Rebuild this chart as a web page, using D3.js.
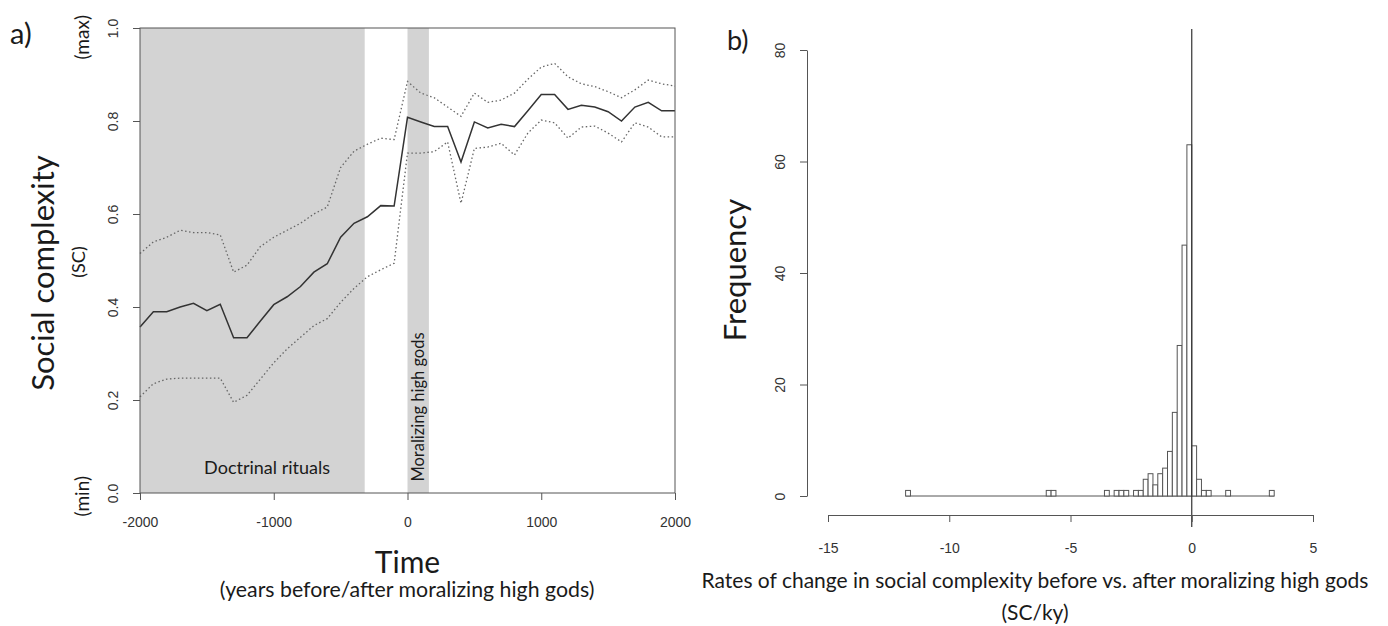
<!DOCTYPE html>
<html>
<head>
<meta charset="utf-8">
<script src="https://cdn.jsdelivr.net/npm/d3@7"></script>
<style>
	body { margin: 0; background: #fff; }
	.tick line, .domain { stroke: #555; }
	.tick text { font-family: 'Liberation Sans', Arial, sans-serif; font-size: 14px; fill: #333; }
	.lbl { font-family: Lato, 'Open Sans', sans-serif; fill: #1a1a1a; }
</style>
</head>
<body>
<script>
// ---- data ----
const years = [-2000, -1900, -1800, -1700, -1600, -1500, -1400, -1300, -1200, -1100,
	-1000, -900, -800, -700, -600, -500, -400, -300, -200, -100,
	0, 100, 200, 300, 400, 500, 600, 700, 800, 900,
	1000, 1100, 1200, 1300, 1400, 1500, 1600, 1700, 1800, 1900, 2000]

const meanSC = [0.357, 0.39, 0.39, 0.40, 0.408, 0.392, 0.406, 0.334, 0.334, 0.37,
	0.405, 0.422, 0.444, 0.475, 0.493, 0.55, 0.58, 0.594, 0.618, 0.617,
	0.808, 0.798, 0.788, 0.788, 0.712, 0.798, 0.785, 0.793, 0.788, 0.822,
	0.857, 0.857, 0.825, 0.834, 0.83, 0.82, 0.80, 0.83, 0.84, 0.822, 0.822]

const upperSC = [0.515, 0.54, 0.55, 0.565, 0.56, 0.56, 0.555, 0.475, 0.49, 0.53,
	0.55, 0.565, 0.58, 0.60, 0.615, 0.70, 0.735, 0.75, 0.763, 0.76,
	0.885, 0.86, 0.85, 0.83, 0.81, 0.86, 0.84, 0.845, 0.86, 0.89,
	0.916, 0.924, 0.895, 0.88, 0.874, 0.863, 0.85, 0.867, 0.888, 0.88, 0.875]

const lowerSC = [0.207, 0.235, 0.245, 0.247, 0.247, 0.247, 0.247, 0.195, 0.21, 0.245,
	0.28, 0.31, 0.335, 0.36, 0.375, 0.41, 0.44, 0.465, 0.48, 0.494,
	0.731, 0.731, 0.734, 0.755, 0.623, 0.741, 0.744, 0.752, 0.727, 0.774,
	0.802, 0.796, 0.763, 0.787, 0.789, 0.774, 0.755, 0.796, 0.787, 0.766, 0.766]

const doctrinalSpan = [-2000, -320]
const moralizingSpan = [0, 160]
const xTicksA = [-2000, -1000, 0, 1000, 2000]
const yTicksA = [0, 0.2, 0.4, 0.6, 0.8, 1.0]

// histogram: left edge of each non-empty bin and its count (bin width 0.2)
const binWidth = 0.2
const histRange = [-11.8, 3.4]
const binStarts = [-11.8, -6.0, -5.8, -3.6, -3.2, -3.0, -2.8, -2.4, -2.2, -2.0,
	-1.8, -1.6, -1.4, -1.2, -1.0, -0.8, -0.6, -0.4, -0.2, 0,
	0.2, 0.4, 0.6, 1.4, 3.2]
const binCounts = [1, 1, 1, 1, 1, 1, 1, 1, 1, 3,
	4, 2, 4, 5, 8, 15, 27, 45, 63, 9,
	3, 1, 1, 1, 1]
const xTicksB = [-15, -10, -5, 0, 5]
const yTicksB = [0, 20, 40, 60, 80]

// plain hyphen minus, no thousands separator (R style)
const plain = d => String(d)

// ---- layout ----
const svg = d3.select('body').append('svg')
	.attr('width', 1388)
	.attr('height', 626)

// ================= panel a =================
const xA = d3.scaleLinear().domain([-2000, 2000]).range([140, 675])
const yA = d3.scaleLinear().domain([0, 1]).range([493, 28])

const a = svg.append('g')

a.selectAll('rect.band')
	.data([doctrinalSpan, moralizingSpan])
	.join('rect')
	.attr('class', 'band')
	.attr('x', d => xA(d[0]))
	.attr('width', d => xA(d[1]) - xA(d[0]))
	.attr('y', yA(1))
	.attr('height', yA(0) - yA(1))
	.attr('fill', '#d3d3d3')

a.append('text')
	.attr('class', 'lbl')
	.attr('x', xA(-1050))
	.attr('y', yA(0.04))
	.attr('text-anchor', 'middle')
	.attr('font-size', 18)
	.text('Doctrinal rituals')

a.append('text')
	.attr('class', 'lbl')
	.attr('transform', `translate(${xA(125)},${yA(0.185)}) rotate(-90)`)
	.attr('text-anchor', 'middle')
	.attr('font-size', 16.5)
	.text('Moralizing high gods')

const line = d3.line()
	.x((d, i) => xA(years[i]))
	.y(d => yA(d))

a.append('path')
	.datum(upperSC)
	.attr('d', line)
	.attr('fill', 'none')
	.attr('stroke', '#666')
	.attr('stroke-width', 1.3)
	.attr('stroke-dasharray', '1.5,2.5')

a.append('path')
	.datum(lowerSC)
	.attr('d', line)
	.attr('fill', 'none')
	.attr('stroke', '#666')
	.attr('stroke-width', 1.3)
	.attr('stroke-dasharray', '1.5,2.5')

a.append('path')
	.datum(meanSC)
	.attr('d', line)
	.attr('fill', 'none')
	.attr('stroke', '#333')
	.attr('stroke-width', 1.5)

a.append('rect')
	.attr('x', 140).attr('y', 28)
	.attr('width', 535).attr('height', 465)
	.attr('fill', 'none')
	.attr('stroke', '#555')

a.append('g')
	.attr('transform', 'translate(0,493)')
	.call(d3.axisBottom(xA).tickValues(xTicksA).tickFormat(plain)
		.tickSize(7).tickPadding(17).tickSizeOuter(0))
	.call(g => g.select('.domain').remove())

a.append('g')
	.attr('transform', 'translate(140,0)')
	.call(d3.axisLeft(yA).tickValues(yTicksA).tickSize(7).tickFormat(d3.format('.1f')))
	.call(g => g.select('.domain').remove())
	.call(g => g.selectAll('text')
		.attr('transform', 'rotate(-90)')
		.attr('x', 0).attr('y', -22).attr('dy', 0)
		.attr('text-anchor', 'middle'))

a.append('text').attr('class', 'lbl')
	.attr('x', 10).attr('y', 44)
	.attr('font-size', 29)
	.text('a)')

a.append('text').attr('class', 'lbl')
	.attr('transform', 'translate(54,273) rotate(-90)')
	.attr('text-anchor', 'middle')
	.attr('font-size', 31)
	.text('Social complexity')

a.append('text').attr('class', 'lbl')
	.attr('transform', 'translate(85,262) rotate(-90)')
	.attr('text-anchor', 'middle')
	.attr('font-size', 18)
	.text('(SC)')

a.append('text').attr('class', 'lbl')
	.attr('transform', `translate(89,${yA(0.98)}) rotate(-90)`)
	.attr('text-anchor', 'middle')
	.attr('font-size', 19)
	.text('(max)')

a.append('text').attr('class', 'lbl')
	.attr('transform', `translate(89,${yA(-0.007)}) rotate(-90)`)
	.attr('text-anchor', 'middle')
	.attr('font-size', 19)
	.text('(min)')

a.append('text').attr('class', 'lbl')
	.attr('x', 407.5).attr('y', 573)
	.attr('text-anchor', 'middle')
	.attr('font-size', 30)
	.text('Time')

a.append('text').attr('class', 'lbl')
	.attr('x', 407).attr('y', 597)
	.attr('text-anchor', 'middle')
	.attr('font-size', 21.3)
	.text('(years before/after moralizing high gods)')

// ================= panel b =================
const xB = d3.scaleLinear().domain([-15, 5]).range([828, 1313])
const yB = d3.scaleLinear().domain([0, 80]).range([496, 50])

const b = svg.append('g')

// empty bins show as a flat line along zero
b.append('line')
	.attr('x1', xB(histRange[0])).attr('x2', xB(histRange[1]))
	.attr('y1', yB(0)).attr('y2', yB(0))
	.attr('stroke', '#555')

b.selectAll('rect.bar')
	.data(binStarts)
	.join('rect')
	.attr('class', 'bar')
	.attr('x', d => xB(d))
	.attr('width', xB(binWidth) - xB(0))
	.attr('y', (d, i) => yB(binCounts[i]))
	.attr('height', (d, i) => yB(0) - yB(binCounts[i]))
	.attr('fill', '#fff')
	.attr('stroke', '#555')
	.attr('stroke-width', 1)

b.append('line')
	.attr('x1', xB(0)).attr('x2', xB(0))
	.attr('y1', 29).attr('y2', 527)
	.attr('stroke', '#333')
	.attr('stroke-width', 1.2)

b.append('g')
	.attr('transform', 'translate(0,515)')
	.call(d3.axisBottom(xB).tickValues(xTicksB).tickFormat(plain)
		.tickSize(7).tickPadding(21).tickSizeOuter(0))

b.append('g')
	.attr('transform', 'translate(807,0)')
	.call(d3.axisLeft(yB).tickValues(yTicksB).tickFormat(plain)
		.tickSize(7).tickSizeOuter(0))
	.call(g => g.selectAll('text')
		.attr('transform', 'rotate(-90)')
		.attr('x', 0).attr('y', -22).attr('dy', 0)
		.attr('text-anchor', 'middle'))

b.append('text').attr('class', 'lbl')
	.attr('x', 727).attr('y', 50)
	.attr('font-size', 27)
	.text('b)')

b.append('text').attr('class', 'lbl')
	.attr('transform', 'translate(746,270) rotate(-90)')
	.attr('text-anchor', 'middle')
	.attr('font-size', 31)
	.text('Frequency')

b.append('text').attr('class', 'lbl')
	.attr('x', 1035).attr('y', 588)
	.attr('text-anchor', 'middle')
	.attr('font-size', 21)
	.text('Rates of change in social complexity before vs. after moralizing high gods')

b.append('text').attr('class', 'lbl')
	.attr('x', 1035).attr('y', 620)
	.attr('text-anchor', 'middle')
	.attr('font-size', 21)
	.text('(SC/ky)')
</script>
</body>
</html>
